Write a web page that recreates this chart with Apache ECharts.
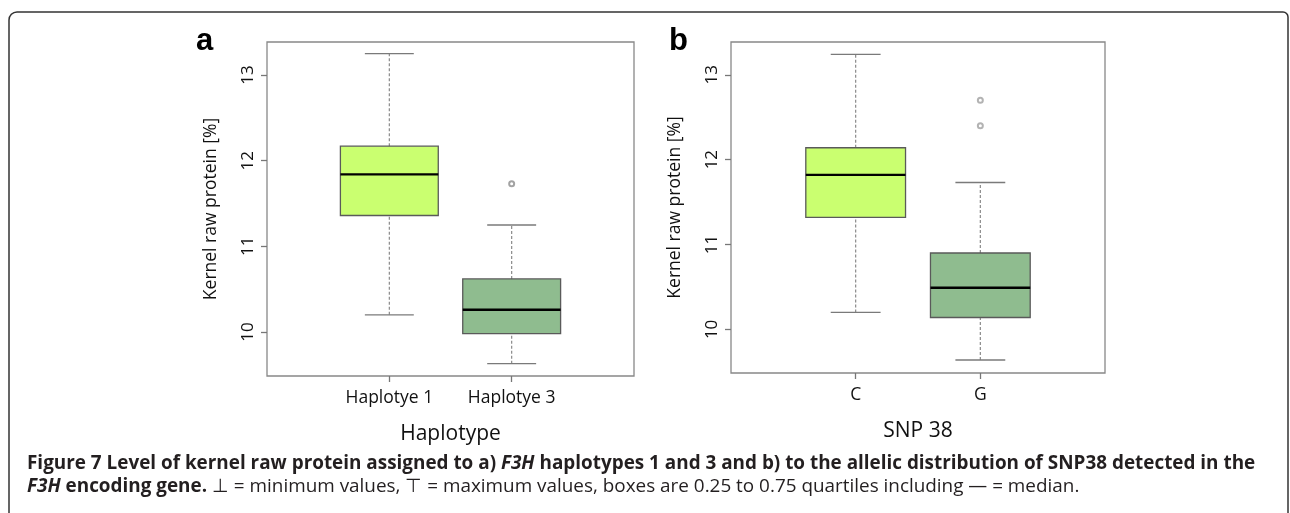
<!DOCTYPE html>
<html><head><meta charset="utf-8">
<script src="https://cdn.jsdelivr.net/npm/echarts@6/dist/echarts.min.js"></script>
<style>html,body{margin:0;padding:0;background:#fff}#c{width:1290px;height:513px}</style>
</head><body><div id="c"></div>
<script>
// ---- data ----
const catsA = ['', 'Haplotye 1', 'Haplotye 3', ''];
const catsB = ['', 'C', 'G', ''];
// [categoryIndex, min, Q1, median, Q3, max]
const boxesA = [[1, 10.20, 11.36, 11.84, 12.17, 13.25], [2, 9.63, 9.98, 10.26, 10.62, 11.25]];
const boxesB = [[1, 10.20, 11.32, 11.82, 12.14, 13.24], [2, 9.64, 10.14, 10.49, 10.90, 11.73]];
const outliersA = [[2, 11.73]];
const outliersB = [[2, 12.70], [2, 12.40]];
const yTicks = [10, 11, 12, 13];
const boxColors = ['#CAFF70', '#8FBC8F'];

const chart = echarts.init(document.getElementById('c'), null, {renderer: 'canvas'});
const FONT = 'Open Sans';

function renderBox(params, api) {
  const xi = api.value(0);
  const pMin = api.coord([xi, api.value(1)]);
  const pQ1 = api.coord([xi, api.value(2)]);
  const pMed = api.coord([xi, api.value(3)]);
  const pQ3 = api.coord([xi, api.value(4)]);
  const pMax = api.coord([xi, api.value(5)]);
  const band = api.size([1, 0])[0];
  const bw = band * 0.8, cw = band * 0.4;
  const x = pMin[0];
  const col = boxColors[params.dataIndex];
  const whisk = {stroke: '#8a8a8a', lineWidth: 1.2, lineDash: [3, 2]};
  const cap = {stroke: '#7a7a7a', lineWidth: 1.4};
  return {type: 'group', children: [
    {type: 'line', shape: {x1: x, y1: pMin[1], x2: x, y2: pQ1[1]}, style: whisk},
    {type: 'line', shape: {x1: x, y1: pQ3[1], x2: x, y2: pMax[1]}, style: whisk},
    {type: 'line', shape: {x1: x - cw / 2, y1: pMin[1], x2: x + cw / 2, y2: pMin[1]}, style: cap},
    {type: 'line', shape: {x1: x - cw / 2, y1: pMax[1], x2: x + cw / 2, y2: pMax[1]}, style: cap},
    {type: 'rect', shape: {x: x - bw / 2, y: pQ3[1], width: bw, height: pQ1[1] - pQ3[1]},
      style: {fill: col, stroke: '#5a5a5a', lineWidth: 1.3}},
    {type: 'line', shape: {x1: x - bw / 2, y1: pMed[1], x2: x + bw / 2, y2: pMed[1]},
      style: {stroke: '#000', lineWidth: 2.4}}
  ]};
}

function xAxisCfg(idx, cats, name) {
  return {
    type: 'category', gridIndex: idx, data: cats, boundaryGap: false,
    axisLine: {show: false},
    axisTick: {show: true, length: 6, interval: (i) => i === 1 || i === 2, lineStyle: {color: '#777', width: 1.3}},
    axisLabel: {interval: 0, margin: 13, fontSize: 17.5, fontFamily: FONT, color: '#111'},
    splitLine: {show: false},
    name: name, nameLocation: 'middle', nameGap: 48,
    nameTextStyle: {fontSize: 21, fontFamily: FONT, color: '#111'}
  };
}
function yAxisCfg(idx) {
  return {
    type: 'value', gridIndex: idx, min: 9.486, max: 13.386,
    axisLine: {show: false},
    axisTick: {show: true, length: 6, customValues: yTicks, lineStyle: {color: '#777', width: 1.3}},
    axisLabel: {customValues: yTicks, rotate: 90, margin: 10, fontSize: 17, fontFamily: FONT, color: '#111'},
    splitLine: {show: false},
    name: 'Kernel raw protein [%]', nameLocation: 'middle', nameGap: 47,
    nameTextStyle: {fontSize: 17.5, fontFamily: FONT, color: '#111'}
  };
}

const CAPFS = 18.9;
const capRich = {
  b: {fontWeight: 'bold', fontFamily: FONT, fontSize: CAPFS, color: '#231f20'},
  bi: {fontWeight: 'bold', fontStyle: 'italic', fontFamily: FONT, fontSize: CAPFS, color: '#231f20'},
  n: {fontFamily: FONT, fontSize: CAPFS, color: '#231f20'}
};

chart.setOption({
  animation: false,
  grid: [
    {left: 267, top: 42, width: 367, height: 334, show: true, borderColor: '#888', borderWidth: 1.3, backgroundColor: 'transparent'},
    {left: 731, top: 42, width: 374, height: 331, show: true, borderColor: '#888', borderWidth: 1.3, backgroundColor: 'transparent'}
  ],
  xAxis: [xAxisCfg(0, catsA, 'Haplotype'), xAxisCfg(1, catsB, 'SNP 38')],
  yAxis: [yAxisCfg(0), yAxisCfg(1)],
  series: [
    {type: 'custom', xAxisIndex: 0, yAxisIndex: 0, data: boxesA, renderItem: renderBox, encode: {x: 0, y: [1, 2, 3, 4, 5]}},
    {type: 'custom', xAxisIndex: 1, yAxisIndex: 1, data: boxesB, renderItem: renderBox, encode: {x: 0, y: [1, 2, 3, 4, 5]}},
    {type: 'scatter', xAxisIndex: 0, yAxisIndex: 0, data: outliersA, symbol: 'emptyCircle', symbolSize: 5,
      itemStyle: {color: '#8c8c8c', borderWidth: 1.2}},
    {type: 'scatter', xAxisIndex: 1, yAxisIndex: 1, data: outliersB, symbol: 'emptyCircle', symbolSize: 5,
      itemStyle: {color: '#a0a0a0', borderWidth: 1.2}}
  ],
  graphic: [
    {type: 'text', x: 196, y: 26, style: {text: 'a', font: 'bold 31px "Liberation Sans"', fill: '#000'}},
    {type: 'text', x: 669, y: 26, style: {text: 'b', font: 'bold 31px "Liberation Sans"', fill: '#000'}},
    {type: 'text', x: 27, y: 454, style: {
      text: '{b|Figure 7 Level of kernel raw protein assigned to a) }{bi|F3H}{b| haplotypes 1 and 3 and b) to the allelic distribution of SNP38 detected in the}',
      rich: capRich, fill: '#231f20'}},
    {type: 'text', x: 27, y: 477, style: {
      text: '{bi|F3H}{b| encoding gene.}{n| \u22A5 = minimum values, \u22A4 = maximum values, boxes are 0.25 to 0.75 quartiles including \u2014 = median.}',
      rich: capRich, fill: '#231f20'}},
    {type: 'rect', shape: {x: 9, y: 12, width: 1279, height: 560, r: [8, 5, 0, 0]},
      style: {fill: 'none', stroke: '#333', lineWidth: 1.5}, silent: true}
  ]
});
</script></body></html>
